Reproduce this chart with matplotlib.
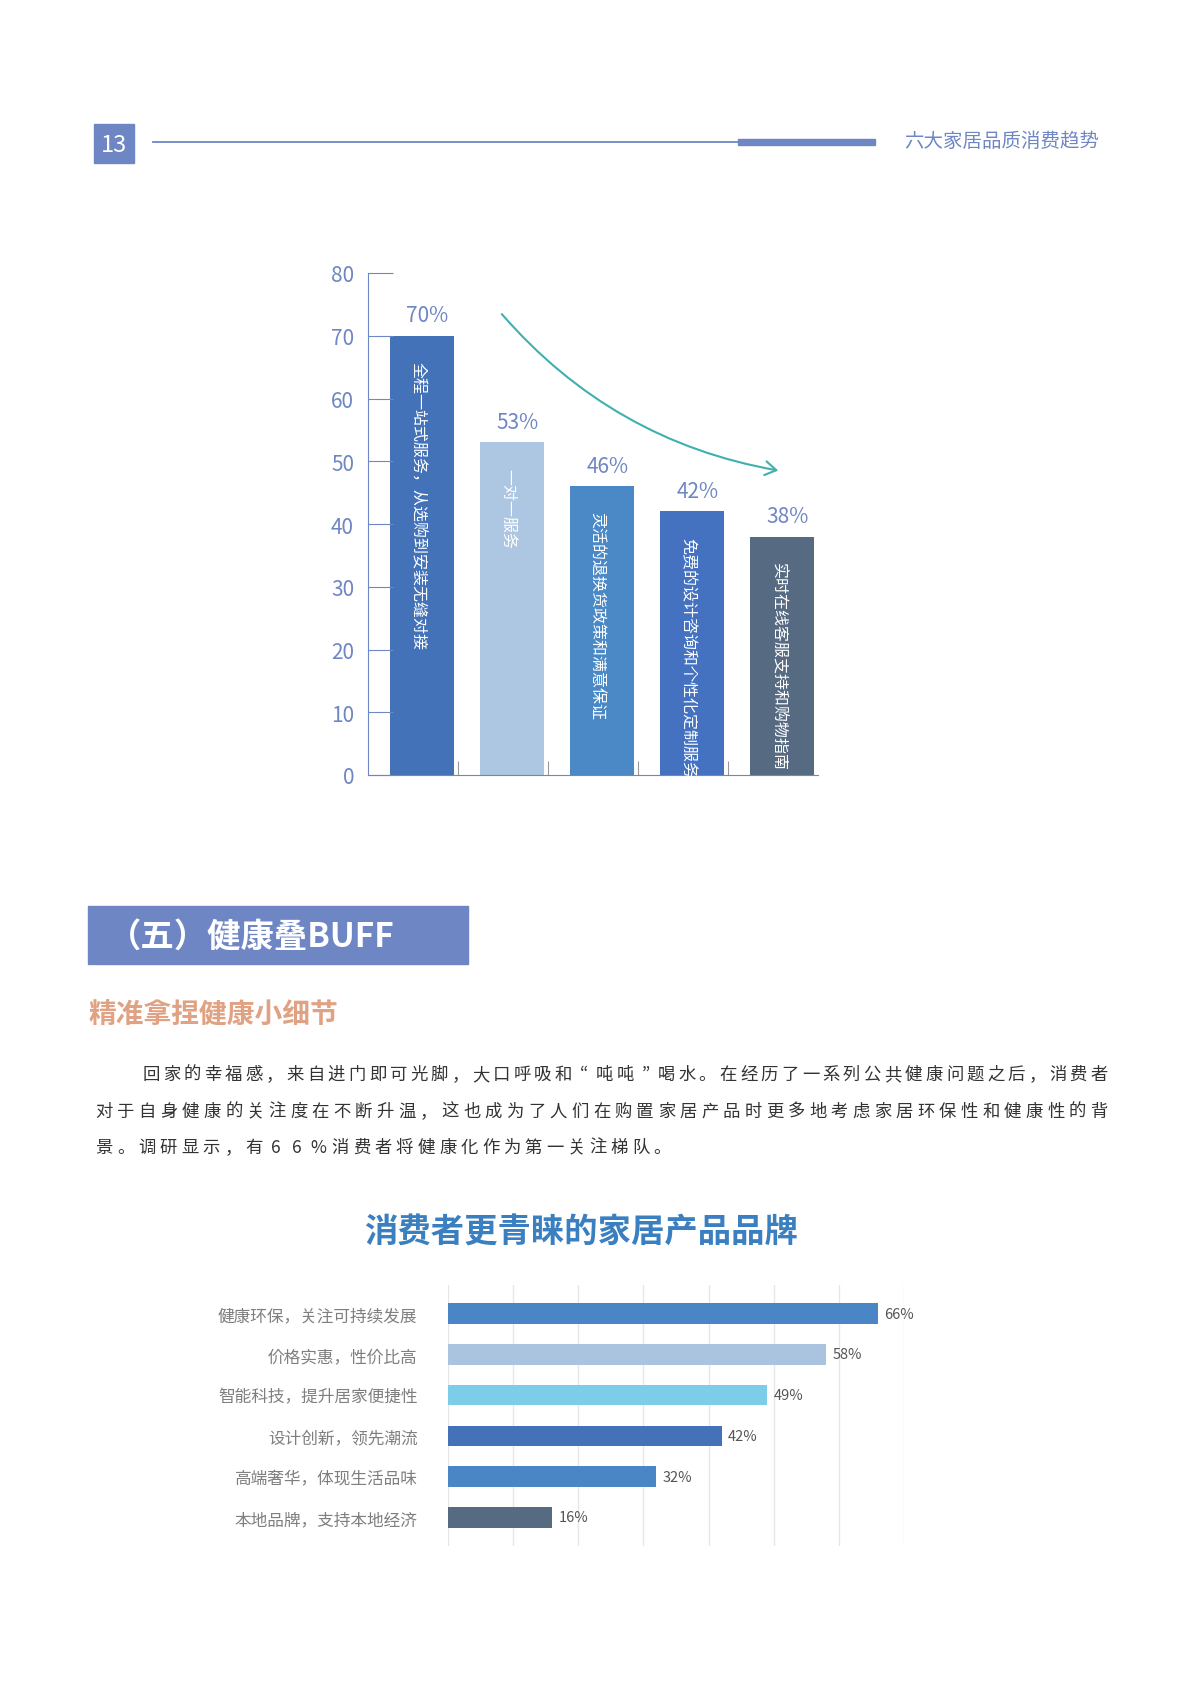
import matplotlib
matplotlib.use("Agg")
import matplotlib.pyplot as plt
from matplotlib import font_manager
from matplotlib.patches import Rectangle, FancyArrowPatch

cjk = [f.name for f in font_manager.fontManager.ttflist if "CJK" in f.name]
pref = [n for n in ["Noto Sans CJK SC", "Noto Sans CJK JP", "Noto Sans CJK TC", "Noto Sans CJK KR"] if n in cjk]
plt.rcParams["font.family"] = (pref[:1] or cjk[:1]) + ["DejaVu Sans"]

# Chart 1 data
svc_labels = ["全程一站式服务，从选购到安装无缝对接", "一对一服务", "灵活的退换货政策和满意保证",
              "免费的设计咨询和个性化定制服务", "实时在线客服支持和购物指南"]
svc_values = [70, 53, 46, 42, 38]
svc_colors = ["#4472b8", "#adc6e2", "#4a88c6", "#4472c0", "#566b82"]
y_ticks = [0, 10, 20, 30, 40, 50, 60, 70, 80]

# Chart 2 data
brand_labels = ["健康环保，关注可持续发展", "价格实惠，性价比高", "智能科技，提升居家便捷性",
                "设计创新，领先潮流", "高端奢华，体现生活品味", "本地品牌，支持本地经济"]
brand_values = [66, 58, 49, 42, 32, 16]
brand_colors = ["#4a86c6", "#aac4e0", "#7ecde8", "#4472b8", "#4a86c6", "#566b82"]

W, H = 1190, 1683
fig = plt.figure(figsize=(W/100, H/100), dpi=100)

def fx(x): return x / W
def fy(y): return 1 - y / H

ov = fig.add_axes([0, 0, 1, 1]); ov.set_xlim(0, W); ov.set_ylim(H, 0); ov.axis("off")

# Header
ov.add_patch(Rectangle((94, 125), 40, 39, color="#6f86c4"))
ov.text(114, 145, "13", color="white", fontsize=17, ha="center", va="center")
ov.plot([153, 740], [143, 143], color="#6f86c4", lw=1.3)
ov.add_patch(Rectangle((738, 140), 137, 6, color="#6f86c4"))
ov.text(1099, 141, "六大家居品质消费趋势", color="#6f86c4", fontsize=14, ha="right", va="center")

# Chart 1
ax = fig.add_axes([fx(368), fy(776), 450/W, 502/H])
ax.patch.set_alpha(0)
x = range(len(svc_values))
ax.bar(x, svc_values, width=0.72, color=svc_colors, align="center")
ax.set_xlim(-0.6, 4.4)
ax.set_ylim(0, 80)
ax.set_yticks(y_ticks)
ax.tick_params(axis="y", direction="in", length=18, color="#6f86c4", labelcolor="#6f86c4",
               labelsize=15, pad=10)
ax.set_xticks([0.4, 1.4, 2.4, 3.4])
ax.set_xticklabels([])
ax.tick_params(axis="x", direction="in", length=10, color="#999999")
for s in ["top", "right"]:
    ax.spines[s].set_visible(False)
ax.spines["left"].set_color("#6f86c4")
ax.spines["bottom"].set_color("#6f86c4")
for i, (v, lab) in enumerate(zip(svc_values, svc_labels)):
    ax.text(i + 0.06, v + 1.5, f"{v}%", ha="center", va="bottom", color="#6f86c4", fontsize=15)
    ax.text(i - 0.05, v - 4, lab, rotation=-90, ha="center", va="top", color="white", fontsize=11.5)
arr = FancyArrowPatch((500, 313), (781, 472), connectionstyle="arc3,rad=0.18",
                      arrowstyle="->,head_length=8,head_width=5", color="#3fb0b0", lw=1.5,
                      transform=ov.transData)
fig.patches.append(arr)

# Section header
ov.add_patch(Rectangle((88, 907), 380, 58, color="#6f86c4"))
ov.text(108, 937, "（五）健康叠BUFF", color="white", fontsize=24, weight="bold", ha="left", va="center")
ov.text(88, 1016, "精准拿捏健康小细节", color="#e0a283", fontsize=20, weight="bold", ha="left", va="center")

# Paragraph with even char spacing
lines = ["回家的幸福感，来自进门即可光脚，大口呼吸和“吨吨”喝水。在经历了一系列公共健康问题之后，消费者",
         "对于自身健康的关注度在不断升温，这也成为了人们在购置家居产品时更多地考虑家居环保性和健康性的背",
         "景。调研显示，有66%消费者将健康化作为第一关注梯队。"]
starts = [143, 96, 96]
ys = [1075, 1112, 1148]
step = (1099 - 96) / (len(lines[1]) - 1) * 0.985
for idx, (ln, sx, yy) in enumerate(zip(lines, starts, ys)):
    st = (1091 - sx) / (len(ln) - 1) if idx < 2 else step
    for k, ch in enumerate(ln):
        ov.text(sx + k * st + 8, yy, ch, fontsize=12.5, color="#333333", ha="center", va="center")

# Chart 2
ov.text(581, 1233, "消费者更青睐的家居产品品牌", color="#3a7fc0", fontsize=24, weight="bold",
        ha="center", va="center")
ax2 = fig.add_axes([fx(448), fy(1547), 456/W, 261/H])
ax2.patch.set_alpha(0)
yy2 = list(range(len(brand_values)))
ax2.barh(yy2, brand_values, height=0.5, color=brand_colors, zorder=3)
ax2.set_xlim(0, 70)
ax2.set_ylim(5.7, -0.7)
ax2.set_xticks(range(0, 71, 10))
ax2.set_xticklabels([])
ax2.grid(axis="x", color="#e6e6e6", lw=1, zorder=0)
ax2.tick_params(length=0)
ax2.set_yticks(yy2)
ax2.set_yticklabels(brand_labels, color="#7f7f7f", fontsize=12)
ax2.tick_params(axis="y", pad=22)
for s in ax2.spines.values():
    s.set_visible(False)
for i, v in enumerate(brand_values):
    ax2.text(v + 1, i, f"{v}%", va="center", ha="left", fontsize=10.5, color="#555555")

fig.savefig("out.png", dpi=100)
